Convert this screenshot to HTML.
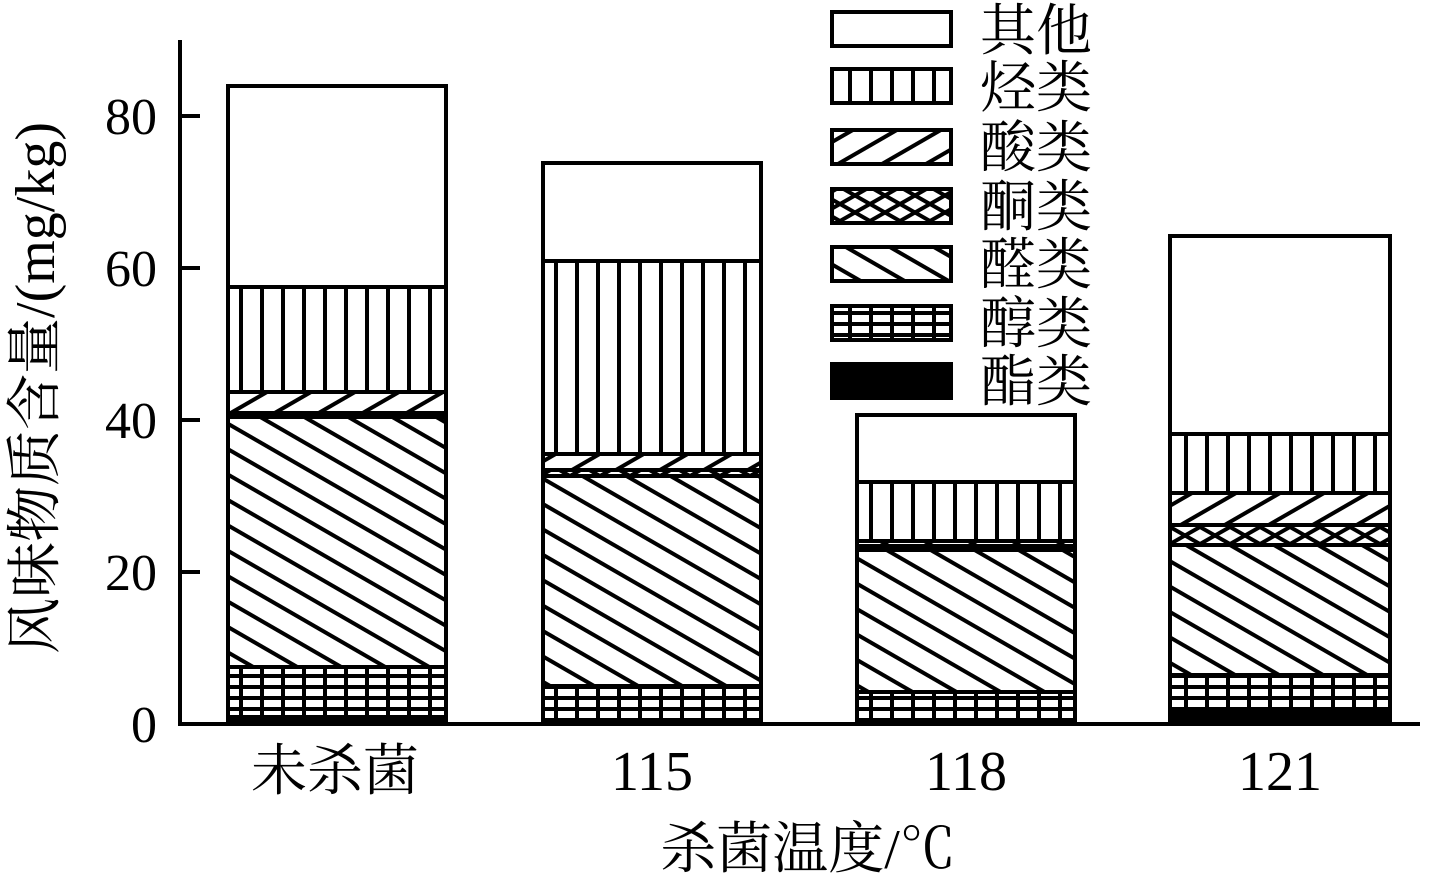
<!DOCTYPE html>
<html><head><meta charset="utf-8"><style>html,body{margin:0;padding:0;background:#fff}svg{display:block}</style></head>
<body>
<svg width="1437" height="874" viewBox="0 0 1437 874" xmlns="http://www.w3.org/2000/svg">
<defs>
<pattern id="v" patternUnits="userSpaceOnUse" width="21" height="10"><rect width="21" height="10" fill="#fff"/><line x1="10" y1="0" x2="10" y2="10" stroke="#000" stroke-width="4"/></pattern>
<pattern id="g" patternUnits="userSpaceOnUse" width="21" height="11"><rect width="21" height="11" fill="#fff"/><line x1="10" y1="0" x2="10" y2="11" stroke="#000" stroke-width="4"/><line x1="0" y1="5" x2="21" y2="5" stroke="#000" stroke-width="4"/></pattern>
<pattern id="a" patternUnits="userSpaceOnUse" width="22" height="22" patternTransform="rotate(60)"><rect width="22" height="22" fill="#fff"/><line x1="11" y1="0" x2="11" y2="22" stroke="#000" stroke-width="4"/></pattern>
<pattern id="b" patternUnits="userSpaceOnUse" width="22" height="22" patternTransform="rotate(-60)"><rect width="22" height="22" fill="#fff"/><line x1="11" y1="0" x2="11" y2="22" stroke="#000" stroke-width="4"/></pattern>
<pattern id="x" patternUnits="userSpaceOnUse" width="30" height="17"><rect width="30" height="17" fill="#fff"/><line x1="0" y1="0" x2="30" y2="17" stroke="#000" stroke-width="4"/><line x1="0" y1="17" x2="30" y2="0" stroke="#000" stroke-width="4"/></pattern>
</defs>
<g stroke="#000" stroke-width="4">
<rect x="228" y="86" width="218" height="201" fill="#fff"/>
<rect x="228" y="287" width="218" height="105" fill="url(#v)"/>
<rect x="228" y="392" width="218" height="21" fill="url(#a)"/>
<rect x="228" y="413" width="218" height="4" fill="url(#x)"/>
<rect x="228" y="417" width="218" height="250" fill="url(#b)"/>
<rect x="228" y="667" width="218" height="50" fill="url(#g)"/>
<rect x="228" y="717" width="218" height="7" fill="#000"/>
<rect x="543" y="163" width="218" height="98" fill="#fff"/>
<rect x="543" y="261" width="218" height="193" fill="url(#v)"/>
<rect x="543" y="454" width="218" height="16" fill="url(#a)"/>
<rect x="543" y="470" width="218" height="6" fill="url(#x)"/>
<rect x="543" y="476" width="218" height="210" fill="url(#b)"/>
<rect x="543" y="686" width="218" height="34" fill="url(#g)"/>
<rect x="543" y="720" width="218" height="4" fill="#000"/>
<rect x="857" y="415" width="218" height="67" fill="#fff"/>
<rect x="857" y="482" width="218" height="59" fill="url(#v)"/>
<rect x="857" y="541" width="218" height="5" fill="url(#a)"/>
<rect x="857" y="546" width="218" height="4" fill="url(#x)"/>
<rect x="857" y="550" width="218" height="142" fill="url(#b)"/>
<rect x="857" y="692" width="218" height="28" fill="url(#g)"/>
<rect x="857" y="720" width="218" height="4" fill="#000"/>
<rect x="1170" y="236" width="220" height="198" fill="#fff"/>
<rect x="1170" y="434" width="220" height="59" fill="url(#v)"/>
<rect x="1170" y="493" width="220" height="32" fill="url(#a)"/>
<rect x="1170" y="525" width="220" height="20" fill="url(#x)"/>
<rect x="1170" y="545" width="220" height="130" fill="url(#b)"/>
<rect x="1170" y="675" width="220" height="38" fill="url(#g)"/>
<rect x="1170" y="713" width="220" height="11" fill="#000"/>
<rect x="832" y="12" width="119" height="34" fill="#fff"/>
<rect x="832" y="69" width="119" height="34" fill="url(#v)"/>
<rect x="832" y="130" width="119" height="34" fill="url(#a)"/>
<rect x="832" y="189" width="119" height="34" fill="url(#x)"/>
<rect x="832" y="247" width="119" height="34" fill="url(#b)"/>
<rect x="832" y="306" width="119" height="34" fill="url(#g)"/>
<rect x="832" y="364" width="119" height="34" fill="#000"/>
<line x1="180" y1="40" x2="180" y2="726"/>
<line x1="178" y1="724" x2="1420" y2="724"/>
<line x1="180" y1="116" x2="200" y2="116"/>
<line x1="180" y1="268" x2="200" y2="268"/>
<line x1="180" y1="420" x2="200" y2="420"/>
<line x1="180" y1="572" x2="200" y2="572"/>
</g>
<g font-family="'Liberation Serif','Noto Serif CJK SC',serif" font-size="52" fill="#000" text-anchor="end">
<text x="157" y="134">80</text>
<text x="157" y="286">60</text>
<text x="157" y="438">40</text>
<text x="157" y="590">20</text>
<text x="157" y="742">0</text>
</g>
<g font-family="'Liberation Serif','Noto Serif CJK SC',serif" font-size="56" fill="#000" text-anchor="middle">
<text x="335" y="790">未杀菌</text>
<text x="652" y="790">115</text>
<text x="966" y="790">118</text>
<text x="1280" y="790">121</text>
<text x="808" y="868">杀菌温度/℃</text>
<text transform="translate(54,388) rotate(-90)">风味物质含量/(mg/kg)</text>
</g>
<g font-family="'Noto Serif CJK SC',serif" font-size="56" fill="#000">
<text x="980" y="50">其他</text>
<text x="980" y="107">烃类</text>
<text x="980" y="167">酸类</text>
<text x="980" y="226">酮类</text>
<text x="980" y="284">醛类</text>
<text x="980" y="343">醇类</text>
<text x="980" y="401">酯类</text>
</g>
</svg>
</body></html>
